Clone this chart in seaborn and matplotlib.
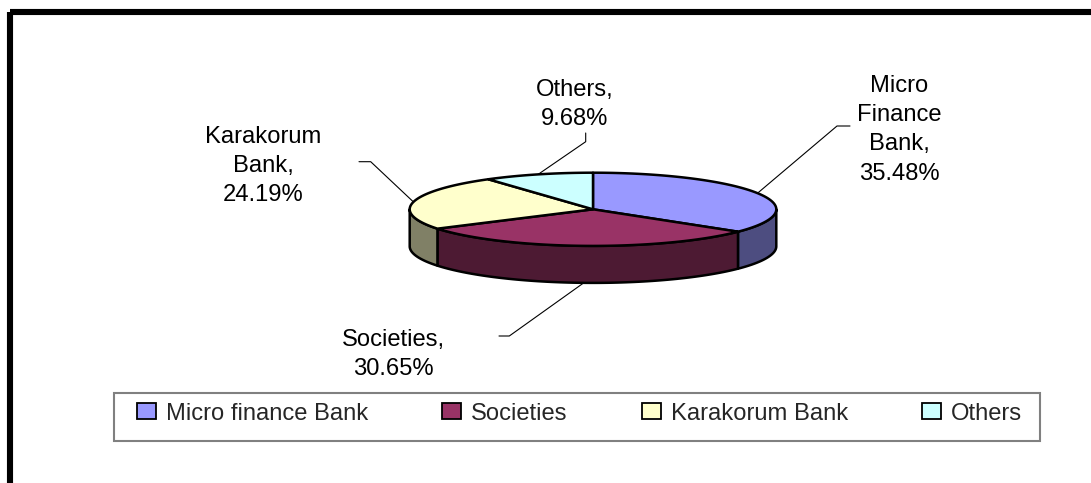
import numpy as np
import matplotlib
matplotlib.use("Agg")
import matplotlib.pyplot as plt
from matplotlib.patches import Polygon, Rectangle, Patch
import seaborn as sns

# ---- data ----
categories = ["Micro finance Bank", "Societies", "Karakorum Bank", "Others"]
slice_names = ["Micro\nFinance\nBank,", "Societies,", "Karakorum\nBank,", "Others,"]
shares = [35.48, 30.65, 24.19, 9.68]
top_colors = ["#9999FF", "#993366", "#FFFFCC", "#CCFFFF"]
side_colors = ["#4D4D80", "#4D1A33", "#808066", "#668080"]

# ---- layout (pixels) ----
label_xy = [(899, 129.8), (393, 354.8), (263, 166.1), (575, 104.6)]
elbows = [[(850, 126), (837, 126)],
          [(499, 336), (509.3, 336)],
          [(359, 161.7), (370.7, 161.7)],
          [(585.7, 133), (585.7, 141.7)]]

sns.set_theme(style="white")
plt.rcParams["font.family"] = ["Liberation Sans", "DejaVu Sans"]

W, H = 1091, 483
fig = plt.figure(figsize=(W / 100, H / 100), dpi=100)
ax = fig.add_axes([0, 0, 1, 1])
ax.set_xlim(0, W)
ax.set_ylim(H, 0)
ax.axis("off")

fs = 23.8 * 72 / 100

# outer frame
ax.add_patch(Rectangle((10, 12), W, H, fill=False, edgecolor="black", lw=4.4, zorder=1))

cx, cy, a, b, depth = 593.0, 209.3, 183.3, 36.6, 37.0


def pt(th, dz=0.0):
    return np.column_stack([cx + a * np.cos(th), cy - b * np.sin(th) + dz])


fracs = np.array(shares) / np.sum(shares)
starts = np.pi / 2 - 2 * np.pi * np.concatenate([[0], np.cumsum(fracs)[:-1]])
ends = starts - 2 * np.pi * fracs

# side faces (front only)
for s, e, sc in zip(starts, ends, side_colors):
    lo, hi = max(e, -np.pi), min(s, 0.0)
    if lo < hi:
        ths = np.linspace(hi, lo, 80)
        poly = np.vstack([pt(ths), pt(ths[::-1], depth)])
        ax.add_patch(Polygon(poly, closed=True, facecolor=sc, edgecolor="black",
                             lw=1.8, joinstyle="round", zorder=2))

# top faces
for s, e, tc in zip(starts, ends, top_colors):
    ths = np.linspace(s, e, 120)
    poly = np.vstack([[cx, cy], pt(ths)])
    ax.add_patch(Polygon(poly, closed=True, facecolor=tc, edgecolor="black",
                         lw=1.8, joinstyle="round", zorder=3))

# labels with leader lines
for s, e, name, v, (lx, ly), el in zip(starts, ends, slice_names, shares, label_xy, elbows):
    mid = (s + e) / 2
    dz = depth if np.sin(mid) < 0 else 0.0
    p = pt(np.array([mid]), dz)[0]
    xs = [el[0][0], el[1][0], p[0]]
    ys = [el[0][1], el[1][1], p[1]]
    ax.plot(xs, ys, color="black", lw=0.8, zorder=4)
    ax.text(lx, ly, f"{name}\n{v:.2f}%", ha="center", va="center", multialignment="center",
            fontsize=fs, linespacing=1.43, color="black", zorder=5)

# legend
ax.add_patch(Rectangle((114, 393), 926, 48, fill=False, edgecolor="#808080", lw=1.5, zorder=1))
handles = [Patch(facecolor=c, edgecolor="black", linewidth=1.3) for c in top_colors]
ax.legend(handles, categories, loc="center", bbox_to_anchor=(579.5, 413.5),
          bbox_transform=ax.transData, ncol=4, frameon=False, fontsize=fs,
          handlelength=0.8, handleheight=0.63, handletextpad=0.42,
          columnspacing=3.1, borderpad=0, borderaxespad=0)

fig.savefig("out.png", dpi=100)
